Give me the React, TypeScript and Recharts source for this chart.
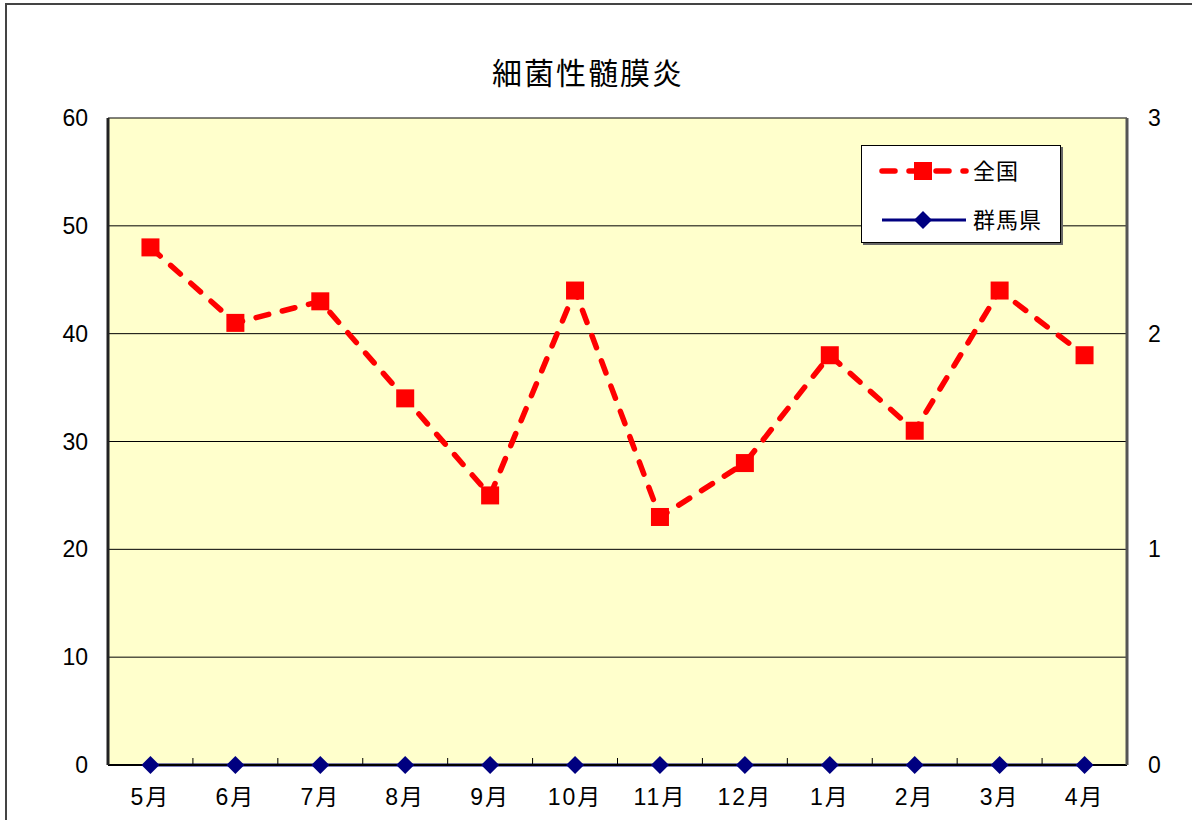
import { ComposedChart, Line, XAxis, YAxis, CartesianGrid, Legend } from "recharts";

const months = ["5月", "6月", "7月", "8月", "9月", "10月", "11月", "12月", "1月", "2月", "3月", "4月"];
const zenkoku = [48, 41, 43, 34, 25, 44, 23, 28, 38, 31, 44, 38];
const gunma = [0, 0, 0, 0, 0, 0, 0, 0, 0, 0, 0, 0];
const leftTicks = [0, 10, 20, 30, 40, 50, 60];
const rightTicks = [0, 1, 2, 3];

const FONT = '"Liberation Sans", "Noto Sans CJK JP", sans-serif';
const RED = "#FF0000";
const NAVY = "#000080";

const data = months.map((m, i) => ({ month: m, zenkoku: zenkoku[i], gunma: gunma[i] }));

const W = 1192;
const H = 820;
const TICK_GAP = 32;
const HALF_BAND = (1127 - 108) / months.length / 2;

function MonthTick(props: any) {
  const { x, y, payload, index } = props;
  const axisY = y - TICK_GAP;
  return (
    <g>
      <text x={x} y={y} dy="0.355em" textAnchor="middle" fontSize={23} letterSpacing={2} fontFamily={FONT} fill="#000">
        {payload.value}
      </text>
      {index < months.length - 1 && (
        <line x1={x + HALF_BAND} x2={x + HALF_BAND} y1={axisY} y2={axisY - 7} stroke="#000" strokeWidth={1} />
      )}
    </g>
  );
}

function Square(props: any) {
  const { cx, cy } = props;
  if (cx == null || cy == null) return null;
  return <rect x={cx - 9} y={cy - 9} width={18} height={18} fill={RED} />;
}

function Diamond(props: any) {
  const { cx, cy } = props;
  if (cx == null || cy == null) return null;
  return <polygon points={`${cx},${cy - 9} ${cx + 9},${cy} ${cx},${cy + 9} ${cx - 9},${cy}`} fill={NAVY} />;
}

function LegendBox() {
  return (
    <div
      style={{
        width: 200,
        height: 98,
        boxSizing: "border-box",
        background: "#fff",
        border: "1px solid #000",
        boxShadow: "2px 2px 0 #666",
        fontFamily: FONT,
        color: "#000",
      }}
    >
      <svg width={198} height={96} style={{ display: "block" }}>
        <line x1={20} x2={104} y1={25} y2={25} stroke={RED} strokeWidth={5.5} strokeDasharray="13 14" strokeLinecap="round" />
        <rect x={52} y={16} width={18} height={18} fill={RED} />
        <text x={111} y={25} dy="0.355em" fontSize={22} letterSpacing={1} fontFamily={FONT}>全国</text>
        <line x1={20} x2={104} y1={74} y2={74} stroke={NAVY} strokeWidth={3} />
        <polygon points="61,65 70,74 61,83 52,74" fill={NAVY} />
        <text x={111} y={74} dy="0.355em" fontSize={22} letterSpacing={1} fontFamily={FONT}>群馬県</text>
      </svg>
    </div>
  );
}

export default function App() {
  return (
    <div style={{ position: "absolute", left: 0, top: 0, width: W, height: H, overflow: "hidden", background: "#fff" }}>
      <div
        style={{
          position: "absolute",
          left: 5,
          top: 3,
          width: 1300,
          height: 900,
          border: "2px solid #444",
        }}
      />
      <div
        style={{
          position: "absolute",
          left: 0,
          width: 1176,
          top: 49,
          textAlign: "center",
          fontFamily: FONT,
          fontSize: 30,
          letterSpacing: 2,
          color: "#000",
        }}
      >
        細菌性髄膜炎
      </div>
      <div style={{ position: "absolute", left: 0, top: 0 }}>
        <ComposedChart width={W} height={H} data={data} margin={{ top: 118, right: 0, bottom: 0, left: 0 }}>
          <CartesianGrid vertical={false} stroke="#000" strokeWidth={1} fill="#FFFFCC" fillOpacity={1} yAxisId="left" />
          <XAxis
            dataKey="month"
            height={55}
            padding={{ left: HALF_BAND, right: HALF_BAND }}
            tickLine={false}
            tickSize={0}
            tickMargin={TICK_GAP}
            tick={<MonthTick />}
            interval={0}
            axisLine={{ stroke: "#000", strokeWidth: 2 }}
          />
          <XAxis
            xAxisId="top"
            orientation="top"
            dataKey="month"
            height={0}
            tick={false}
            tickLine={false}
            axisLine={{ stroke: "#808080", strokeWidth: 2 }}
          />
          <YAxis
            yAxisId="left"
            width={108}
            domain={[0, 60]}
            ticks={leftTicks}
            interval={0}
            tickLine={false}
            tickSize={0}
            tickMargin={20}
            axisLine={{ stroke: "#222", strokeWidth: 3 }}
            tick={{ fontSize: 23, fill: "#000", fontFamily: FONT }}
          />
          <YAxis
            yAxisId="right"
            orientation="right"
            width={65}
            domain={[0, 3]}
            ticks={rightTicks}
            interval={0}
            tickLine={false}
            tickSize={0}
            tickMargin={21}
            axisLine={{ stroke: "#555", strokeWidth: 3 }}
            tick={{ fontSize: 23, fill: "#000", fontFamily: FONT }}
          />
          <Legend
            layout="vertical"
            align="center"
            verticalAlign="middle"
            wrapperStyle={{ left: 861, top: 145, width: 200, height: 98 }}
            content={() => <LegendBox />}
          />
          <Line
            yAxisId="left"
            dataKey="zenkoku"
            name="全国"
            stroke={RED}
            strokeWidth={5.5}
            strokeDasharray="13 14"
            strokeLinecap="round"
            dot={<Square />}
            activeDot={false}
            isAnimationActive={false}
          />
          <Line
            yAxisId="right"
            dataKey="gunma"
            name="群馬県"
            stroke={NAVY}
            strokeWidth={3}
            dot={<Diamond />}
            activeDot={false}
            isAnimationActive={false}
          />
        </ComposedChart>
      </div>
    </div>
  );
}
